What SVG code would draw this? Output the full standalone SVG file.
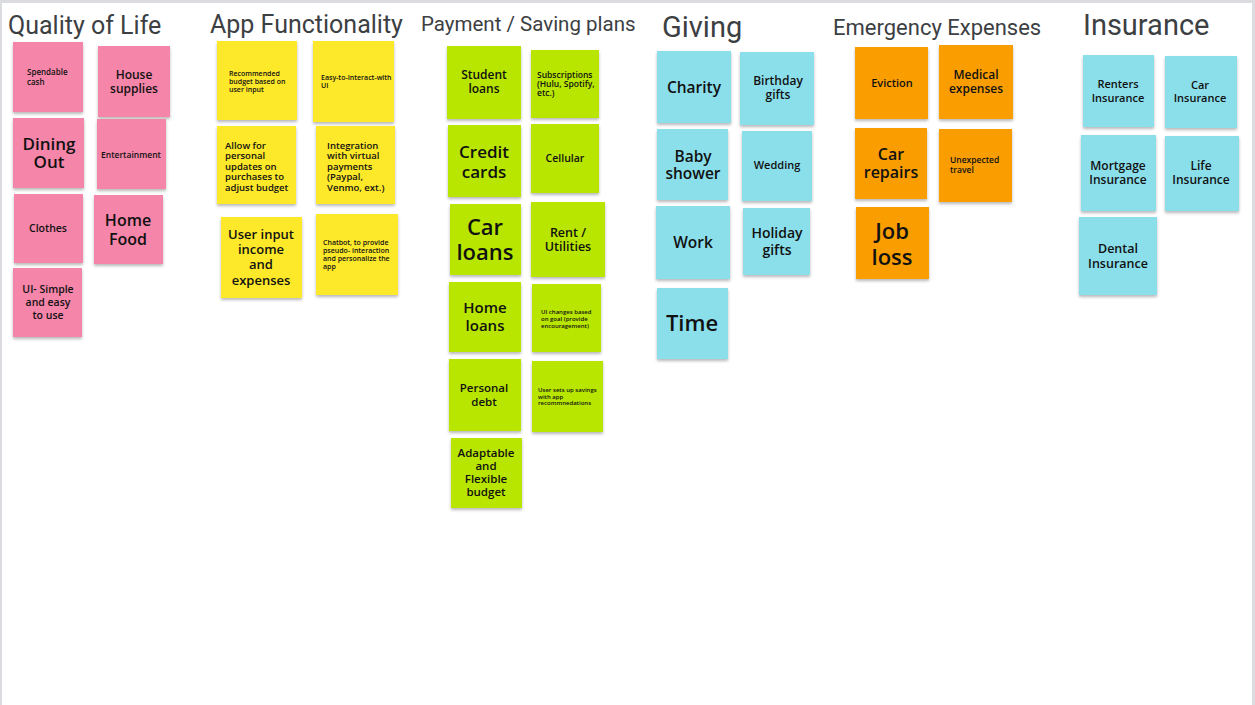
<svg xmlns="http://www.w3.org/2000/svg" width="1255" height="705" viewBox="0 0 1255 705">
<defs>
<filter id="sh" x="-10%" y="-10%" width="130%" height="140%">
<feDropShadow dx="0" dy="2" stdDeviation="1.5" flood-color="#000" flood-opacity="0.28"/>
</filter>
<style>
.title{font-family:Roboto,"Liberation Sans",sans-serif;fill:#3c4043;font-weight:400}
.note rect{filter:url(#sh)}
.pink rect{fill:#f585a9}
.yellow rect{fill:#fde82c}
.green rect{fill:#b8e600}
.cyan rect{fill:#8adfeb}
.orange rect{fill:#f99d00}
.note text{font-family:"Open Sans","DejaVu Sans",sans-serif;font-weight:600;fill:#111}
.c{text-anchor:middle}
.l{text-anchor:start}
.thin{font-weight:500}
</style>
</defs>
<rect x="0" y="0" width="1255" height="705" fill="#ffffff"/>
<rect x="0" y="0" width="1255" height="3" fill="#dadce0"/>
<rect x="0" y="0" width="2" height="705" fill="#dadce0"/>
<rect x="1252" y="0" width="3" height="705" fill="#dadce0"/>

<g id="titles">
<text class="title" x="8" y="34" font-size="25">Quality of Life</text>
<text class="title" x="210" y="33" font-size="25">App Functionality</text>
<text class="title" x="421" y="31" font-size="20.5">Payment / Saving plans</text>
<text class="title" x="662" y="37" font-size="29">Giving</text>
<text class="title" x="833" y="35" font-size="22">Emergency Expenses</text>
<text class="title" x="1083" y="35" font-size="29">Insurance</text>
</g>

<g id="connectors"></g>

<!-- Quality of Life -->
<g id="n-spendable" class="note pink"><rect x="13" y="42" width="70" height="70"/><text class="l thin" font-size="8"><tspan x="27" y="75">Spendable</tspan><tspan x="27" y="85">cash</tspan></text></g>
<g id="n-house" class="note pink"><rect x="98" y="46" width="72" height="71"/><text class="c" font-size="12"><tspan x="134" y="79">House</tspan><tspan x="134" y="93">supplies</tspan></text></g>
<g id="n-dining" class="note pink"><rect x="13" y="118" width="71" height="70"/><text class="c" font-size="17"><tspan x="49" y="150">Dining</tspan><tspan x="49" y="168">Out</tspan></text></g>
<g id="n-entertainment" class="note pink"><rect x="97" y="119" width="69" height="70"/><text class="c thin" font-size="8.5" x="131" y="158">Entertainment</text></g>
<g id="n-clothes" class="note pink"><rect x="14" y="194" width="69" height="69"/><text class="c" font-size="10.5" x="48" y="232">Clothes</text></g>
<g id="n-homefood" class="note pink"><rect x="94" y="195" width="69" height="69"/><text class="c" font-size="16"><tspan x="128" y="226">Home</tspan><tspan x="128" y="245">Food</tspan></text></g>
<g id="n-uisimple" class="note pink"><rect x="13" y="268" width="69" height="69"/><text class="c" font-size="10.5"><tspan x="48" y="293">UI- Simple</tspan><tspan x="48" y="306">and easy</tspan><tspan x="48" y="319">to use</tspan></text></g>

<!-- App Functionality -->
<g id="n-recommended" class="note yellow"><rect x="217" y="41" width="80" height="79"/><text class="l thin" font-size="7"><tspan x="229" y="75.5">Recommended</tspan><tspan x="229" y="83.5">budget based on</tspan><tspan x="229" y="91.5">user input</tspan></text></g>
<g id="n-easy" class="note yellow"><rect x="313" y="41" width="81" height="81"/><text class="l thin" font-size="7"><tspan x="321" y="79.5">Easy-to-Interact-with</tspan><tspan x="321" y="87.5">UI</tspan></text></g>
<g id="n-allow" class="note yellow"><rect x="217" y="126" width="79" height="78"/><text class="l" font-size="9.5"><tspan x="225" y="148.5">Allow for</tspan><tspan x="225" y="159">personal</tspan><tspan x="225" y="169.5">updates on</tspan><tspan x="225" y="180">purchases to</tspan><tspan x="225" y="190.5">adjust budget</tspan></text></g>
<g id="n-integration" class="note yellow"><rect x="316" y="126" width="79" height="78"/><text class="l" font-size="9.5"><tspan x="327" y="148.5">Integration</tspan><tspan x="327" y="159">with virtual</tspan><tspan x="327" y="169.5">payments</tspan><tspan x="327" y="180">(Paypal,</tspan><tspan x="327" y="190.5">Venmo, ext.)</tspan></text></g>
<g id="n-userinput" class="note yellow"><rect x="221" y="217" width="81" height="81"/><text class="c" font-size="13"><tspan x="261" y="238.5">User input</tspan><tspan x="261" y="254">income</tspan><tspan x="261" y="269">and</tspan><tspan x="261" y="284.5">expenses</tspan></text></g>
<g id="n-chatbot" class="note yellow"><rect x="316" y="214" width="82" height="81"/><text class="l thin" font-size="7"><tspan x="323" y="244.5">Chatbot, to provide</tspan><tspan x="323" y="252.5">pseudo- interaction</tspan><tspan x="323" y="260.5">and personalize the</tspan><tspan x="323" y="268.5">app</tspan></text></g>

<!-- Payment / Saving plans -->
<g id="n-student" class="note green"><rect x="447" y="46" width="74" height="73"/><text class="c" font-size="12"><tspan x="484" y="79">Student</tspan><tspan x="484" y="93">loans</tspan></text></g>
<g id="n-subscriptions" class="note green"><rect x="531" y="50" width="68" height="68"/><text class="l thin" font-size="8.5"><tspan x="537" y="78">Subscriptions</tspan><tspan x="537" y="87">(Hulu, Spotify,</tspan><tspan x="537" y="96">etc.)</tspan></text></g>
<g id="n-credit" class="note green"><rect x="448" y="125" width="73" height="72"/><text class="c" font-size="17"><tspan x="484" y="158">Credit</tspan><tspan x="484" y="177.5">cards</tspan></text></g>
<g id="n-cellular" class="note green"><rect x="531" y="124" width="68" height="69"/><text class="c" font-size="10.5" x="565" y="161.5">Cellular</text></g>
<g id="n-carloans" class="note green"><rect x="450" y="204" width="71" height="71"/><text class="c" font-size="22"><tspan x="485" y="235">Car</tspan><tspan x="485" y="260">loans</tspan></text></g>
<g id="n-rent" class="note green"><rect x="531" y="202" width="74" height="75"/><text class="c" font-size="12.5"><tspan x="568" y="236.5">Rent /</tspan><tspan x="568" y="250.5">Utilities</tspan></text></g>
<g id="n-homeloans" class="note green"><rect x="449" y="282" width="72" height="70"/><text class="c" font-size="15"><tspan x="485" y="313">Home</tspan><tspan x="485" y="331">loans</tspan></text></g>
<g id="n-uichanges" class="note green"><rect x="532" y="284" width="69" height="68"/><text class="l thin" font-size="6"><tspan x="541" y="314">UI changes based</tspan><tspan x="541" y="321">on goal (provide</tspan><tspan x="541" y="327.5">encouragement)</tspan></text></g>
<g id="n-personaldebt" class="note green"><rect x="449" y="359" width="72" height="72"/><text class="c" font-size="11.5"><tspan x="484" y="392">Personal</tspan><tspan x="484" y="406">debt</tspan></text></g>
<g id="n-usersets" class="note green"><rect x="532" y="361" width="71" height="71"/><text class="l thin" font-size="6"><tspan x="538" y="392">User sets up savings</tspan><tspan x="538" y="398.5">with app</tspan><tspan x="538" y="405">recommnedations</tspan></text></g>
<g id="n-adaptable" class="note green"><rect x="451" y="438" width="71" height="70"/><text class="c" font-size="11.5"><tspan x="486" y="457">Adaptable</tspan><tspan x="486" y="470">and</tspan><tspan x="486" y="483">Flexible</tspan><tspan x="486" y="496">budget</tspan></text></g>

<!-- Giving -->
<g id="n-charity" class="note cyan"><rect x="657" y="51" width="74" height="72"/><text class="c" font-size="15.5" x="694" y="92.5">Charity</text></g>
<g id="n-birthday" class="note cyan"><rect x="740" y="52" width="74" height="73"/><text class="c" font-size="12"><tspan x="778" y="85">Birthday</tspan><tspan x="778" y="99">gifts</tspan></text></g>
<g id="n-baby" class="note cyan"><rect x="657" y="129" width="71" height="71"/><text class="c" font-size="15.5"><tspan x="693" y="161.5">Baby</tspan><tspan x="693" y="178.5">shower</tspan></text></g>
<g id="n-wedding" class="note cyan"><rect x="742" y="131" width="70" height="70"/><text class="c" font-size="11" x="777" y="169">Wedding</text></g>
<g id="n-work" class="note cyan"><rect x="656" y="206" width="74" height="73"/><text class="c" font-size="15.5" x="693" y="247.5">Work</text></g>
<g id="n-holiday" class="note cyan"><rect x="743" y="208" width="67" height="67"/><text class="c" font-size="14"><tspan x="777" y="238">Holiday</tspan><tspan x="777" y="255">gifts</tspan></text></g>
<g id="n-time" class="note cyan"><rect x="657" y="288" width="71" height="71"/><text class="c" font-size="22" x="692" y="331">Time</text></g>

<!-- Emergency Expenses -->
<g id="n-eviction" class="note orange"><rect x="855" y="47" width="73" height="72"/><text class="c" font-size="11" x="892" y="87">Eviction</text></g>
<g id="n-medical" class="note orange"><rect x="939" y="45" width="74" height="74"/><text class="c" font-size="12"><tspan x="976" y="79">Medical</tspan><tspan x="976" y="93">expenses</tspan></text></g>
<g id="n-carrepairs" class="note orange"><rect x="855" y="128" width="72" height="71"/><text class="c" font-size="16"><tspan x="891" y="160">Car</tspan><tspan x="891" y="178">repairs</tspan></text></g>
<g id="n-unexpected" class="note orange"><rect x="939" y="129" width="73" height="73"/><text class="l thin" font-size="8.5"><tspan x="950" y="163">Unexpected</tspan><tspan x="950" y="173">travel</tspan></text></g>
<g id="n-jobloss" class="note orange"><rect x="856" y="207" width="73" height="72"/><text class="c" font-size="22"><tspan x="892" y="239">Job</tspan><tspan x="892" y="265">loss</tspan></text></g>

<!-- Insurance -->
<g id="n-renters" class="note cyan"><rect x="1083" y="55" width="71" height="72"/><text class="c" font-size="11"><tspan x="1118" y="88">Renters</tspan><tspan x="1118" y="102">Insurance</tspan></text></g>
<g id="n-carins" class="note cyan"><rect x="1165" y="56" width="72" height="72"/><text class="c" font-size="11"><tspan x="1200" y="89">Car</tspan><tspan x="1200" y="102">Insurance</tspan></text></g>
<g id="n-mortgage" class="note cyan"><rect x="1081" y="135" width="75" height="76"/><text class="c" font-size="12"><tspan x="1118" y="170">Mortgage</tspan><tspan x="1118" y="184">Insurance</tspan></text></g>
<g id="n-life" class="note cyan"><rect x="1165" y="136" width="74" height="75"/><text class="c" font-size="12"><tspan x="1201" y="170">Life</tspan><tspan x="1201" y="184">Insurance</tspan></text></g>
<g id="n-dental" class="note cyan"><rect x="1079" y="217" width="78" height="78"/><text class="c" font-size="12.5"><tspan x="1118" y="252.5">Dental</tspan><tspan x="1118" y="267.5">Insurance</tspan></text></g>
</svg>
